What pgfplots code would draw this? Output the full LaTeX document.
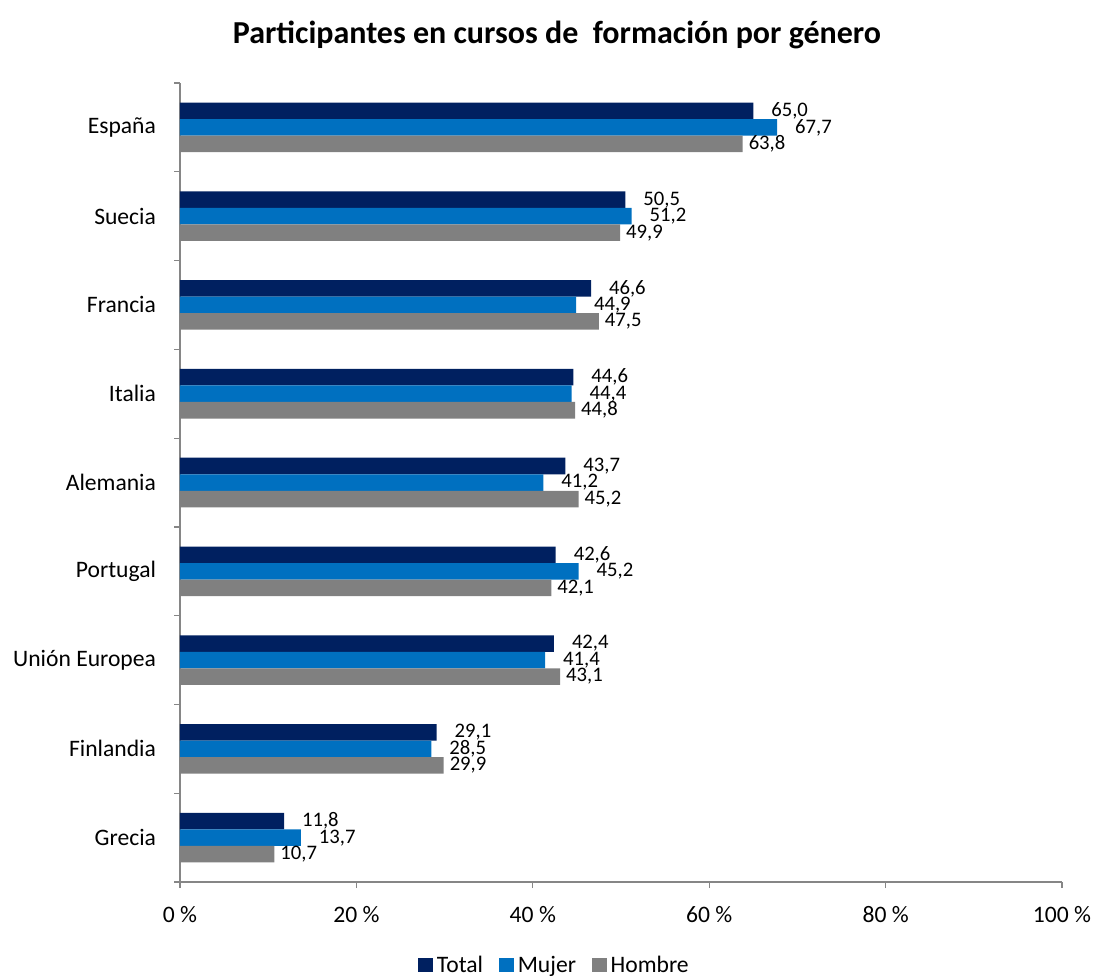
\documentclass[border=0pt]{standalone}
\usepackage{pgfplots}
\pgfplotsset{compat=1.18}
\usepackage{fontspec}
\setmainfont{Carlito}
\definecolor{cTotal}{HTML}{002060}
\definecolor{cMujer}{HTML}{0070C0}
\definecolor{cHombre}{HTML}{808080}
\definecolor{axgray}{HTML}{868686}

% 1 px of the reference = 0.75pt
\pgfplotstableread{
y total mujer hombre
0 65.0 67.7 63.8
1 50.5 51.2 49.9
2 46.6 44.9 47.5
3 44.6 44.4 44.8
4 43.7 41.2 45.2
5 42.6 45.2 42.1
6 42.4 41.4 43.1
7 29.1 28.5 29.9
8 11.8 13.7 10.7
}\datatable

\begin{document}
\begin{tikzpicture}
\begin{axis}[
    at={(0,0)}, anchor=south west,
    scale only axis,
    width=661.5pt, height=599.25pt,
    xbar, bar width=0.186,
    xmin=0, xmax=100,
    ymin=-0.5, ymax=8.5,
    y dir=reverse,
    xtick={0,20,...,100},
    xticklabel={\pgfmathprintnumber[assume math mode=true]{\tick}~\%},
    ytick={0,...,8},
    yticklabels={España,Suecia,Francia,Italia,Alemania,Portugal,Unión Europea,Finlandia,Grecia},
    minor ytick={-0.5,0.5,...,8.5},
    major y tick style={draw=none},
    minor tick length=4.5pt,
    major tick length=4.5pt,
    tick align=outside,
    tick style={axgray, line width=0.9pt},
    axis x line*=bottom,
    axis y line*=left,
    axis line style={axgray, line width=0.9pt, -},
    ticklabel style={font=\fontsize{17.7}{20}\selectfont},
    xticklabel style={yshift=-10pt},
    yticklabel style={xshift=-10pt},
    nodes near coords,
    every node near coord/.append style={font=\fontsize{15.5}{18}\selectfont, anchor=west, black},
    nodes near coords={\pgfmathprintnumber[fixed, fixed zerofill, precision=1, use comma, assume math mode=true]{\pgfplotspointmeta}},
    point meta=explicit,
    legend style={at={(0.425,-0.104)}, anchor=center, draw=none, fill=none,
        legend columns=-1, font=\fontsize{17.7}{20}\selectfont,
        /tikz/every odd column/.append style={column sep=1pt}},
    legend image code/.code={\fill[#1] (0pt,-5.5pt) rectangle (11pt,5.5pt);},
    clip=false,
]
\addplot[fill=cTotal, draw=none, bar shift=-0.186,
    every node near coord/.append style={xshift=10pt}]
    table[x=total, y=y, meta=total] {\datatable};
\addplot[fill=cMujer, draw=none, bar shift=0,
    every node near coord/.append style={xshift=10pt}]
    table[x=mujer, y=y, meta=mujer] {\datatable};
\addplot[fill=cHombre, draw=none, bar shift=0.186,
    every node near coord/.append style={xshift=1pt}]
    table[x=hombre, y=y, meta=hombre] {\datatable};
\legend{Total\rule{10pt}{0pt},Mujer\rule{10pt}{0pt},Hombre}
\end{axis}
\node[font=\bfseries\fontsize{24}{28}\selectfont] at (282.75pt,635.25pt)
    {Participantes en cursos de\ \ formación por género};
\pgfresetboundingbox
\useasboundingbox (-135pt,-70.5pt) rectangle (685.5pt,661.5pt);
\end{tikzpicture}
\end{document}
